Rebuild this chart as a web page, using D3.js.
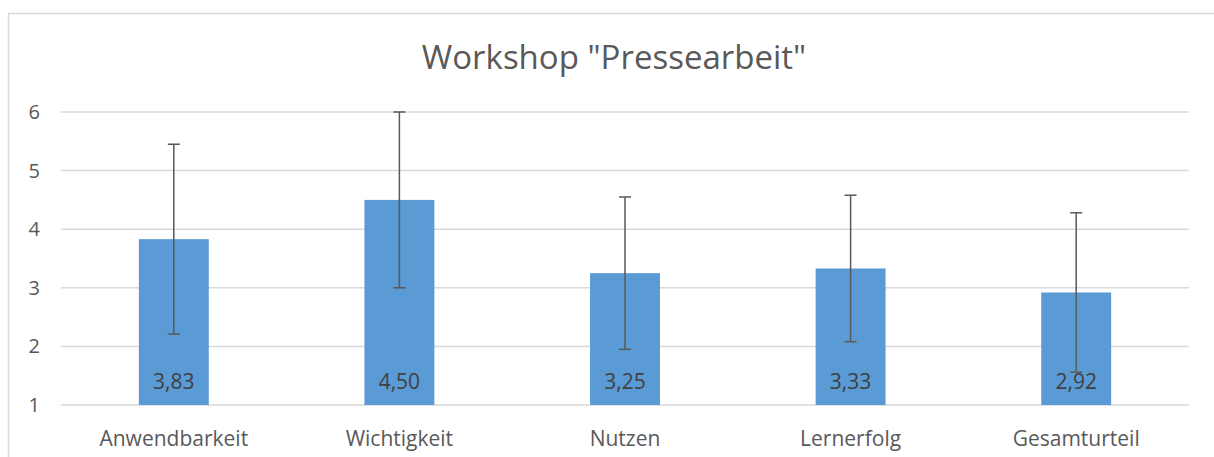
<!DOCTYPE html>
<html>
<head>
<meta charset="utf-8">
<script src="https://cdn.jsdelivr.net/npm/d3@7"></script>
<style>
  body { margin: 0; background: #fff; }
  text { font-family: "Open Sans", sans-serif; }
</style>
</head>
<body>
<svg id="chart"></svg>
<script>
let categories = ['Anwendbarkeit', 'Wichtigkeit', 'Nutzen', 'Lernerfolg', 'Gesamturteil']
let values = [3.83, 4.50, 3.25, 3.33, 2.92]
let errors = [1.62, 1.50, 1.30, 1.25, 1.36]
let yTicks = [1, 2, 3, 4, 5, 6]
let title = 'Workshop "Pressearbeit"'

let w = 1214, h = 457
let svg = d3.select('#chart').attr('width', w).attr('height', h)

// chart frame
svg.append('path')
  .attr('d', `M8.5,${h} V13.5 H${w}`)
  .attr('fill', 'none')
  .attr('stroke', '#d9d9d9')
  .attr('stroke-width', 1.5)

let x = d3.scaleBand().domain(categories).range([61, 1189]).paddingInner(0).paddingOuter(0)
let y = d3.scaleLinear().domain([1, 6]).range([405, 112])

// gridlines
svg.append('g').selectAll('line')
  .data(yTicks)
  .enter().append('line')
  .attr('x1', 61).attr('x2', 1189)
  .attr('y1', d => y(d)).attr('y2', d => y(d))
  .attr('stroke', '#d9d9d9').attr('stroke-width', 1.5)

// y tick labels
svg.append('g').selectAll('text')
  .data(yTicks)
  .enter().append('text')
  .attr('x', 40).attr('y', d => y(d) + 7)
  .attr('text-anchor', 'end')
  .attr('font-size', 20).attr('fill', '#595959')
  .text(d => d)

// x labels
svg.append('g').selectAll('text')
  .data(categories)
  .enter().append('text')
  .attr('x', d => x(d) + x.bandwidth() / 2).attr('y', 446)
  .attr('text-anchor', 'middle')
  .attr('font-size', 21).attr('fill', '#595959')
  .text(d => d)

let barW = x.bandwidth() * 0.31
let data = categories.map((c, i) => ({c: c, v: values[i], e: errors[i]}))

// bars
svg.append('g').selectAll('rect')
  .data(data)
  .enter().append('rect')
  .attr('x', d => x(d.c) + x.bandwidth() / 2 - barW / 2)
  .attr('width', barW)
  .attr('y', d => y(d.v))
  .attr('height', d => y(1) - y(d.v))
  .attr('fill', '#5b9bd5')

// value labels
svg.append('g').selectAll('text')
  .data(data)
  .enter().append('text')
  .attr('x', d => x(d.c) + x.bandwidth() / 2).attr('y', 389)
  .attr('text-anchor', 'middle')
  .attr('font-size', 21).attr('fill', '#404040')
  .text(d => d3.format('.2f')(d.v).replace('.', ','))

// error bars
let eb = svg.append('g').attr('stroke', '#595959').attr('stroke-width', 1.5)
data.forEach(d => {
  let cx = x(d.c) + x.bandwidth() / 2
  let top = y(d.v + d.e), bot = y(d.v - d.e)
  eb.append('line').attr('x1', cx).attr('x2', cx).attr('y1', top).attr('y2', bot)
  eb.append('line').attr('x1', cx - 6).attr('x2', cx + 6).attr('y1', top).attr('y2', top)
  eb.append('line').attr('x1', cx - 6).attr('x2', cx + 6).attr('y1', bot).attr('y2', bot)
})

// title
svg.append('text')
  .attr('x', 614).attr('y', 69)
  .attr('text-anchor', 'middle')
  .attr('font-size', 33).attr('fill', '#595959')
  .text(title)
</script>
</body>
</html>
